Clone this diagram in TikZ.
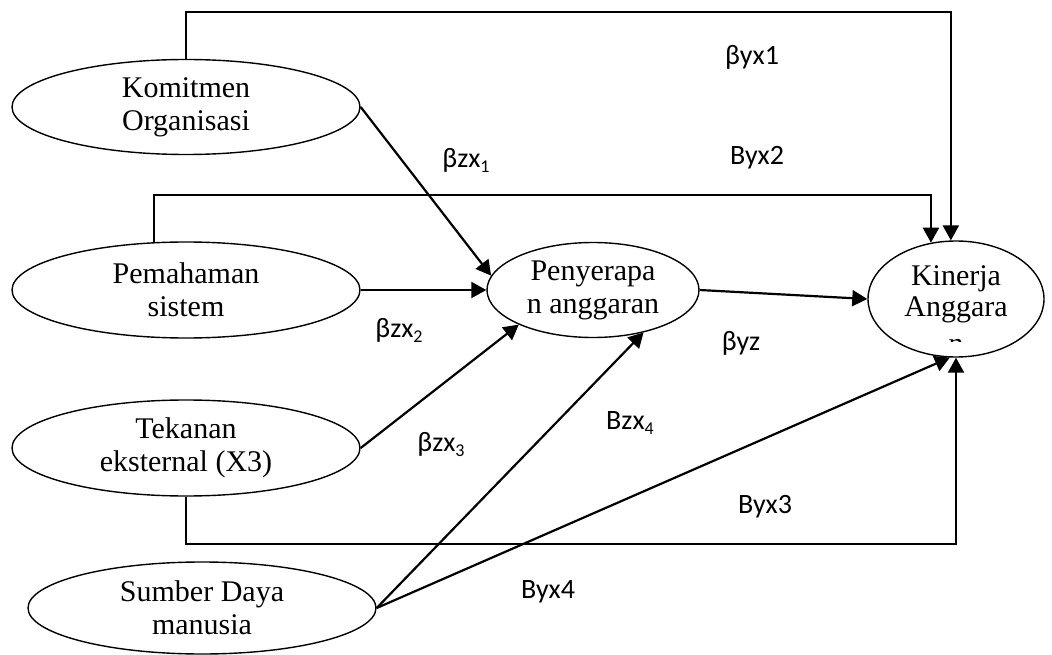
\documentclass[tikz,border=0pt]{standalone}
\usepackage{fontspec}
\setmainfont{Liberation Serif}
\newfontfamily\labfont{Carlito}
\usetikzlibrary{shapes.geometric,arrows.meta,calc}
\newcommand\mysub[1]{\raisebox{-5pt}{\fontsize{18}{18}\selectfont #1}}
\begin{document}
\begin{tikzpicture}[x=1pt,y=-1pt,
  ov/.style={draw,ellipse,line width=1.4pt,inner sep=0pt,align=center,
    font=\fontsize{30}{33}\selectfont},
  txt/.style={inner sep=0pt,align=center,font=\fontsize{30}{31}\selectfont},
  arr/.style={line width=2.2pt,-{Triangle[length=15pt,width=16pt]}},
  lbl/.style={font=\labfont\fontsize{28}{30}\selectfont,inner sep=0pt}]
\useasboundingbox (0,0) rectangle (1052,655);
\fill[white] (0,0) rectangle (1052,655);

\node[ov,minimum width=348,minimum height=95] (kom) at (186,107) {Komitmen\\Organisasi};
\node[ov,minimum width=348,minimum height=96] (pem) at (186,290) {Pemahaman\\sistem};
\node[ov,minimum width=348,minimum height=96] (tek) at (186,448) {Tekanan\\eksternal (X3)};
\node[ov,minimum width=348,minimum height=92] (sum) at (202,608) {Sumber Daya\\manusia};
\node[ov,minimum width=212,minimum height=95] (pen) at (593,290) {Penyerapa\\n anggaran};
\node[ov,minimum width=176,minimum height=116] (kin) at (956,299) {};
\node[txt] (kintxt) at (956,294) {Kinerja\\Anggara};
\begin{scope}
  \clip (900,333) rectangle (1010,341);
  \node[txt] (kinn) at (956,346) {n};
\end{scope}

\coordinate (y1) at (0,12);
\coordinate (y2) at (0,195);
\coordinate (y3) at (0,544);

\draw[arr] (kom.north) |- (kin.95 |- y1) -- (kin.95);
\draw[arr] (pem.124) |- (kin.114 |- y2) -- (kin.114);
\draw[arr] (tek.south) |- (kin.south |- y3) -- (kin.south);

\draw[arr] (kom.east) -- (pen.172);
\draw[arr] (pem.east) -- (pen.west);
\draw[arr] (tek.east) -- (pen.205);
\draw[arr] (sum.east) -- (pen.-40);
\draw[arr] (sum.east) -- (kin.264);
\draw[arr] (pen.east) -- (kin.west);

\node[lbl] (l1) at (752,57) {βyx1};
\node[lbl] (l2) at (757,158) {Byx2};
\node[lbl] (l3) at (466,160) {βzx\mysub{1}};
\node[lbl] (l4) at (399,330) {βzx\mysub{2}};
\node[lbl] (l5) at (741,343) {βyz};
\node[lbl] (l6) at (441,445) {βzx\mysub{3}};
\node[lbl] (l7) at (630,423) {Bzx\mysub{4}};
\node[lbl] (l8) at (765,507) {Byx3};
\node[lbl] (l9) at (548,592) {Byx4};
\end{tikzpicture}
\end{document}
